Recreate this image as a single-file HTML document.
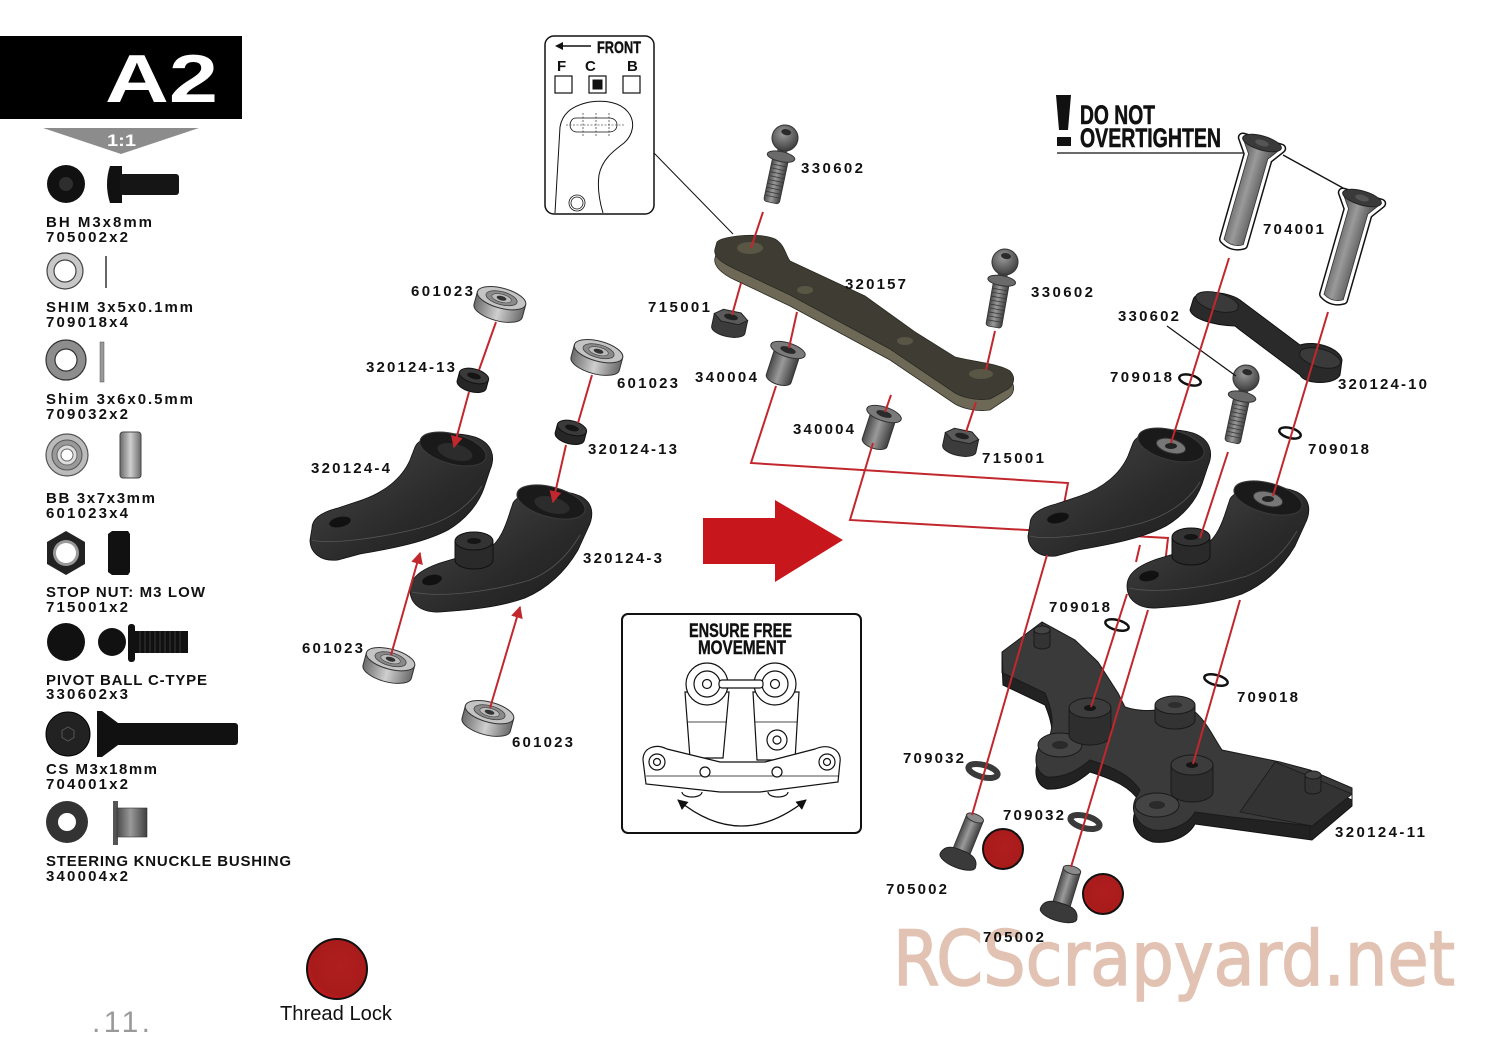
<!DOCTYPE html>
<html><head><meta charset="utf-8"><style>
html,body{margin:0;padding:0;background:#fff;}
svg{display:block;}
.lb{font-family:"Liberation Sans",sans-serif;font-weight:bold;font-size:15px;fill:#111;}
</style></head><body>
<svg width="1500" height="1057" viewBox="0 0 1500 1057" xmlns="http://www.w3.org/2000/svg">
<defs>
<linearGradient id="gScrew" x1="0" y1="0" x2="1" y2="0"><stop offset="0" stop-color="#4a4a4a"/><stop offset="0.45" stop-color="#9a9a9a"/><stop offset="1" stop-color="#3e3e3e"/></linearGradient>
<linearGradient id="gCyl" x1="0" y1="0" x2="1" y2="0"><stop offset="0" stop-color="#6a6a6a"/><stop offset="0.5" stop-color="#cfcfcf"/><stop offset="1" stop-color="#6a6a6a"/></linearGradient>
<linearGradient id="gDark" x1="0" y1="0" x2="1" y2="1"><stop offset="0" stop-color="#4a4a4a"/><stop offset="0.6" stop-color="#2a2a2a"/><stop offset="1" stop-color="#1c1c1c"/></linearGradient>
<radialGradient id="gBall" cx="0.4" cy="0.35" r="0.7"><stop offset="0" stop-color="#9a9a9a"/><stop offset="1" stop-color="#3a3a3a"/></radialGradient>
<radialGradient id="gRed" cx="0.55" cy="0.45" r="0.6"><stop offset="0" stop-color="#b01e1e"/><stop offset="0.8" stop-color="#a81b1b"/><stop offset="1" stop-color="#d2161c"/></radialGradient>
<marker id="ah" viewBox="0 0 10 10" refX="9" refY="5" markerWidth="6" markerHeight="6" orient="auto-start-reverse"><path d="M0,0 L10,5 L0,10 z" fill="#c1272d"/></marker>
<marker id="ahk" viewBox="0 0 10 10" refX="9" refY="5" markerWidth="8" markerHeight="8" orient="auto-start-reverse"><path d="M0,0 L10,5 L0,10 z" fill="#111"/></marker>

<g id="brg">
 <path d="M-25,-6 L-25,7 A25,10 0 0 0 25,7 L25,-6 Z" fill="url(#gCyl)" stroke="#333" stroke-width="1"/>
 <ellipse cx="0" cy="-6" rx="25" ry="10" fill="#c4c4c4" stroke="#333" stroke-width="1"/>
 <ellipse cx="0" cy="-6" rx="16" ry="6.5" fill="#8a8a8a" stroke="#444" stroke-width="0.8"/>
 <ellipse cx="0" cy="-6" rx="10" ry="4" fill="#bbb" stroke="#444" stroke-width="0.6"/>
 <ellipse cx="0" cy="-6" rx="5" ry="2.2" fill="#333"/>
</g>
<g id="sp">
 <path d="M-15,0 L-15,9 A15,7 0 0 0 15,9 L15,0 Z" fill="#262626" stroke="#111"/>
 <ellipse cx="0" cy="0" rx="15" ry="7" fill="#3a3a3a" stroke="#111"/>
 <ellipse cx="0" cy="0" rx="7" ry="3" fill="#151515"/>
</g>
<g id="nut">
 <path d="M-17,0 L-17,13 A17,7 0 0 0 17,13 L17,0 Z" fill="#3c3c3c" stroke="#222"/>
 <path d="M-17,0 L-9,-6 L9,-6 L17,0 L9,6 L-9,6 Z" fill="#5a5a5a" stroke="#222"/>
 <ellipse cx="0" cy="0" rx="7" ry="3" fill="#222"/>
</g>
<g id="bush">
 <path d="M-13,0 L-13,30 A13,6 0 0 0 13,30 L13,0 Z" fill="url(#gScrew)" stroke="#333"/>
 <ellipse cx="0" cy="0" rx="18" ry="7" fill="#7a7a7a" stroke="#333"/>
 <ellipse cx="0" cy="0" rx="8" ry="3.2" fill="#2a2a2a"/>
</g>
<g id="stud">
 <rect x="-8" y="20" width="16" height="46" rx="3" fill="url(#gScrew)" stroke="#333" stroke-width="0.8"/>
 <path d="M-8,28h16M-8,32h16M-8,36h16M-8,40h16M-8,44h16M-8,48h16M-8,52h16M-8,56h16M-8,60h16" stroke="#3a3a3a" stroke-width="0.8"/>
 <rect x="-5" y="8" width="10" height="12" fill="#555"/>
 <ellipse cx="0" cy="19" rx="14" ry="5" fill="#6a6a6a" stroke="#333"/>
 <circle cx="0" cy="0" r="13" fill="url(#gBall)" stroke="#333"/>
 <ellipse cx="0" cy="-6" rx="5" ry="3" fill="#2a2a2a"/>
</g>
<path id="csp" d="M-20,0 L-10,14 L-10,103 Q0,109 10,103 L10,14 L20,0 Z"/>
<g id="bh">
 <path d="M-9,0 L-9,42 L9,42 L9,0 Z" fill="url(#gScrew)" stroke="#333" stroke-width="0.8"/>
 <ellipse cx="0" cy="0" rx="9" ry="4" fill="#8a8a8a" stroke="#333"/>
 <path d="M-19,46 Q-18,34 0,35 Q18,34 19,46 A19,7 0 0 1 -19,46 Z" fill="#3a3a3a" stroke="#222"/>
</g>
<path id="k4" d="M312,528 C312,518 322,512 338,508 L362,500 C385,492 402,478 410,460 L415,447 C420,435 450,430 475,437 C492,443 496,456 490,470 L484,488 C478,505 465,520 448,530 C425,542 395,548 360,554 L338,560 C320,562 310,552 310,540 Z"/>
<path id="k3" d="M410,590 C410,578 420,570 440,563 L490,548 C500,540 505,528 510,512 L513,503 C520,490 560,487 580,496 C594,503 594,516 588,528 L578,550 C565,572 548,588 525,598 C500,607 470,610 440,612 C420,613 410,603 410,590 Z"/>
</defs>

<!-- Header -->
<rect x="0" y="36" width="242" height="83" fill="#000"/>
<text x="105" y="102" font-family="Liberation Sans" font-weight="bold" font-size="68" fill="#fff" textLength="113" lengthAdjust="spacingAndGlyphs">A2</text>
<polygon points="43,128 199,128 121,154" fill="#8c8c8c"/>
<text x="107" y="146" font-family="Liberation Sans" font-weight="bold" font-size="17" fill="#fff" textLength="29" lengthAdjust="spacingAndGlyphs">1:1</text>

<!-- Left parts column -->
<circle cx="66" cy="184" r="19" fill="#111"/><circle cx="66" cy="184" r="7" fill="#2e2e2e"/>
<path d="M110,166 Q104,184 110,203 L122,203 L122,166 Z" fill="#111"/><rect x="120" y="174" width="59" height="21" rx="3" fill="#151515"/>
<text class="lb" x="46" y="227" textLength="106" lengthAdjust="spacing">BH M3x8mm</text>
<text class="lb" x="46" y="242" textLength="82" lengthAdjust="spacing">705002x2</text>

<circle cx="65" cy="271" r="18" fill="#c8c8c8" stroke="#444" stroke-width="1.2"/><circle cx="65" cy="271" r="11" fill="#fff" stroke="#444" stroke-width="1.2"/>
<line x1="106" y1="256" x2="106" y2="288" stroke="#333" stroke-width="1.5"/>
<text class="lb" x="46" y="312" textLength="147" lengthAdjust="spacing">SHIM 3x5x0.1mm</text>
<text class="lb" x="46" y="327" textLength="82" lengthAdjust="spacing">709018x4</text>

<circle cx="66" cy="360" r="20" fill="#8d8d8d" stroke="#333" stroke-width="1.2"/><circle cx="66" cy="360" r="11" fill="#fff" stroke="#333" stroke-width="1.2"/>
<rect x="100" y="342" width="4" height="40" fill="#999" stroke="#555" stroke-width="0.5"/>
<text class="lb" x="46" y="404" textLength="147" lengthAdjust="spacing">Shim 3x6x0.5mm</text>
<text class="lb" x="46" y="419" textLength="82" lengthAdjust="spacing">709032x2</text>

<circle cx="67" cy="455" r="21" fill="#bbb" stroke="#555" stroke-width="1.2"/><circle cx="67" cy="455" r="15" fill="#999" stroke="#555"/><circle cx="67" cy="455" r="10" fill="#ddd" stroke="#666"/><circle cx="67" cy="455" r="6" fill="#fff" stroke="#666"/>
<rect x="120" y="432" width="21" height="46" rx="3" fill="url(#gCyl)" stroke="#444"/>
<text class="lb" x="46" y="503" textLength="109" lengthAdjust="spacing">BB 3x7x3mm</text>
<text class="lb" x="46" y="518" textLength="82" lengthAdjust="spacing">601023x4</text>

<polygon points="66,531 85,542 85,564 66,575 47,564 47,542" fill="#222"/><circle cx="66" cy="553" r="13" fill="#999"/><circle cx="66" cy="553" r="10" fill="#fff"/>
<path d="M108,534 L112,531 L128,531 L130,534 L130,572 L128,575 L112,575 L108,572 Z" fill="#111"/>
<text class="lb" x="46" y="597" textLength="159" lengthAdjust="spacing">STOP NUT: M3 LOW</text>
<text class="lb" x="46" y="612" textLength="82" lengthAdjust="spacing">715001x2</text>

<circle cx="66" cy="642" r="19" fill="#111"/>
<circle cx="112" cy="642" r="14" fill="#111"/><rect x="128" y="624" width="7" height="38" rx="3" fill="#111"/><rect x="134" y="631" width="54" height="22" fill="#111"/>
<path d="M140,631v22M145,631v22M150,631v22M155,631v22M160,631v22M165,631v22M170,631v22M175,631v22M180,631v22" stroke="#444" stroke-width="0.8"/>
<text class="lb" x="46" y="685" textLength="161" lengthAdjust="spacing">PIVOT BALL C-TYPE</text>
<text class="lb" x="46" y="699" textLength="82" lengthAdjust="spacing">330602x3</text>

<circle cx="68" cy="734" r="22" fill="#222" stroke="#000"/><polygon points="68,727 74,730.5 74,737.5 68,741 62,737.5 62,730.5" fill="none" stroke="#555"/>
<polygon points="97,711 102,711 118,723 118,745 102,757 97,757" fill="#111"/><rect x="112" y="723" width="126" height="22" rx="3" fill="#111"/>
<text class="lb" x="46" y="774" textLength="111" lengthAdjust="spacing">CS M3x18mm</text>
<text class="lb" x="46" y="789" textLength="82" lengthAdjust="spacing">704001x2</text>

<circle cx="67" cy="822" r="21" fill="#333"/><circle cx="67" cy="822" r="9" fill="#fff"/>
<rect x="113" y="801" width="5" height="44" fill="#555"/><rect x="117" y="808" width="30" height="29" fill="url(#gScrew)" stroke="#333" stroke-width="0.6"/>
<text class="lb" x="46" y="866" textLength="245" lengthAdjust="spacing">STEERING KNUCKLE BUSHING</text>
<text class="lb" x="46" y="881" textLength="82" lengthAdjust="spacing">340004x2</text>

<!-- Bottom left -->
<text x="92" y="1032" font-family="Liberation Sans" font-size="30" fill="#9a9a9a" textLength="58" lengthAdjust="spacing">.11.</text>
<circle cx="337" cy="969" r="30" fill="url(#gRed)" stroke="#111" stroke-width="2"/>
<text x="280" y="1020" font-family="Liberation Sans" font-size="20" fill="#111" textLength="112" lengthAdjust="spacingAndGlyphs">Thread Lock</text>

<!-- Watermark -->
<text x="893" y="985" font-family="DejaVu Sans" font-size="76" fill="#e2c2b2" stroke="#e2c2b2" stroke-width="1.5" textLength="562" lengthAdjust="spacingAndGlyphs">RCScrapyard.net</text>

<!-- FRONT box -->
<rect x="545" y="36" width="109" height="178" rx="9" fill="#fff" stroke="#111" stroke-width="1.5"/>
<line x1="560" y1="46" x2="591" y2="46" stroke="#111" stroke-width="1.5"/><path d="M555,46 L563,42 L563,50 Z" fill="#111"/>
<text x="597" y="53" font-family="Liberation Sans" font-weight="bold" font-size="17" fill="#111" stroke="#111" stroke-width="0.4" textLength="44" lengthAdjust="spacingAndGlyphs">FRONT</text>
<text x="557" y="71" font-family="Liberation Sans" font-weight="bold" font-size="15" fill="#111">F</text>
<text x="585" y="71" font-family="Liberation Sans" font-weight="bold" font-size="15" fill="#111">C</text>
<text x="627" y="71" font-family="Liberation Sans" font-weight="bold" font-size="15" fill="#111">B</text>
<rect x="555" y="76" width="17" height="17" fill="#fff" stroke="#111" stroke-width="1.2"/>
<rect x="589" y="76" width="17" height="17" fill="#fff" stroke="#111" stroke-width="1.2"/><rect x="592.5" y="79.5" width="10" height="10" fill="#111"/>
<rect x="623" y="76" width="17" height="17" fill="#fff" stroke="#111" stroke-width="1.2"/>
<path d="M555,213 L560,127 C562,115 570,106 590,102 C605,100 620,102 628,112 C636,122 633,135 624,143 C612,152 602,160 599,175 C597,190 600,203 603,213" fill="none" stroke="#111" stroke-width="1"/>
<path d="M576,118 C572,118 570,122 570,125 C570,129 573,132 577,132 L609,132 C614,132 617,129 617,125 C617,121 614,118 609,118 Z" fill="none" stroke="#111" stroke-width="0.8"/>
<path d="M566,125 H624 M583,113 V137 M596,113 V137 M609,113 V137" stroke="#111" stroke-width="0.6" stroke-dasharray="2,1.5"/>
<circle cx="577" cy="203" r="8" fill="none" stroke="#111" stroke-width="0.8"/><circle cx="577" cy="203" r="6" fill="none" stroke="#111" stroke-width="0.8"/>
<line x1="654" y1="153" x2="733" y2="234" stroke="#111" stroke-width="1"/>

<!-- Center plate 320157 -->
<path d="M717,251 C722,245 760,241 775,248 C785,254 785,263 790,270 L865,305 L915,341 L955,366 C975,371 1000,373 1010,380 C1016,386 1014,394 1008,398 L990,410 C975,412 962,408 955,404 L890,360 L790,306 L735,280 C722,274 713,266 715,258 Z" fill="#6d6956" stroke="#2a2a22" stroke-width="0.8"/>
<path d="M717,242 C722,236 760,232 775,239 C785,245 785,254 790,261 L865,296 L915,332 L955,357 C975,362 1000,364 1010,371 C1016,377 1014,385 1008,389 L990,399 C975,401 962,397 955,393 L890,349 L790,295 L735,269 C722,263 713,257 715,249 Z" fill="#3f3d33" stroke="#2a2a22" stroke-width="0.8"/>
<ellipse cx="750" cy="248" rx="13" ry="6" fill="#5a5646"/>
<ellipse cx="805" cy="290" rx="8" ry="4" fill="#5a5646"/>
<ellipse cx="905" cy="341" rx="8" ry="4" fill="#5a5646"/>
<ellipse cx="981" cy="374" rx="12" ry="5" fill="#5a5646"/>

<!-- center parts -->
<use href="#stud" transform="translate(785,138) rotate(12)"/>
<use href="#stud" transform="translate(1005,262) rotate(10)"/>
<use href="#nut" transform="translate(731,317) rotate(12)"/>
<use href="#nut" transform="translate(962,436) rotate(12)"/>
<use href="#bush" transform="translate(788,350) rotate(18)"/>
<use href="#bush" transform="translate(884,414) rotate(18)"/>

<!-- Left knuckles -->
<use href="#k4" fill="url(#gDark)" stroke="#111" stroke-width="0.8"/>
<path d="M312,540 C330,545 380,538 420,528 C450,520 470,505 482,486" fill="none" stroke="#555" stroke-width="0.8"/>
<ellipse cx="453" cy="449" rx="34" ry="15" transform="rotate(15 453 449)" fill="#1a1a1a" stroke="#3a3a3a"/>
<ellipse cx="455" cy="452" rx="18" ry="8" transform="rotate(15 455 452)" fill="#2c2c2c"/>
<ellipse cx="340" cy="522" rx="11" ry="5" transform="rotate(-12 340 522)" fill="#111"/>
<use href="#k3" fill="url(#gDark)" stroke="#111" stroke-width="0.8"/>
<path d="M412,592 C440,598 490,592 530,580 C555,570 570,552 580,535" fill="none" stroke="#555" stroke-width="0.8"/>
<ellipse cx="551" cy="502" rx="35" ry="15" transform="rotate(15 551 502)" fill="#1a1a1a" stroke="#3a3a3a"/>
<ellipse cx="552" cy="505" rx="18" ry="8" transform="rotate(15 552 505)" fill="#2c2c2c"/>
<path d="M455,541 L455,560 A19,9 0 0 0 493,560 L493,541 Z" fill="#2a2a2a" stroke="#111"/>
<ellipse cx="474" cy="541" rx="19" ry="9" fill="#333" stroke="#111"/><ellipse cx="474" cy="541" rx="7" ry="3" fill="#151515"/>
<ellipse cx="432" cy="580" rx="10" ry="5" transform="rotate(-12 432 580)" fill="#111"/>

<use href="#brg" transform="translate(500,304) rotate(15)"/>
<use href="#sp" transform="translate(474,376) rotate(15)"/>
<use href="#brg" transform="translate(597,357) rotate(15)"/>
<use href="#sp" transform="translate(572,428) rotate(15)"/>
<use href="#brg" transform="translate(389,665) rotate(15)"/>
<use href="#brg" transform="translate(488,718) rotate(15)"/>

<!-- Left red lines -->
<g stroke="#c1272d" stroke-width="2" fill="none">
<line x1="496" y1="322" x2="479" y2="370"/>
<line x1="469" y1="392" x2="454" y2="447" marker-end="url(#ah)"/>
<line x1="592" y1="375" x2="578" y2="423"/>
<line x1="566" y1="445" x2="553" y2="502" marker-end="url(#ah)"/>
<line x1="391" y1="655" x2="420" y2="553" marker-end="url(#ah)"/>
<line x1="490" y1="708" x2="520" y2="607" marker-end="url(#ah)"/>
</g>

<!-- Big red arrow -->
<path d="M703,518 L775,518 L775,500 L843,540 L775,582 L775,564 L703,564 Z" fill="#c8161d"/>

<!-- ENSURE FREE MOVEMENT box -->
<rect x="622" y="614" width="239" height="219" rx="6" fill="#fff" stroke="#111" stroke-width="2"/>
<text x="689" y="637" font-family="Liberation Sans" font-weight="bold" font-size="19" fill="#111" stroke="#111" stroke-width="0.4" textLength="103" lengthAdjust="spacingAndGlyphs">ENSURE FREE</text>
<text x="698" y="654" font-family="Liberation Sans" font-weight="bold" font-size="19" fill="#111" stroke="#111" stroke-width="0.4" textLength="88" lengthAdjust="spacingAndGlyphs">MOVEMENT</text>
<g fill="#fff" stroke="#111" stroke-width="1.2">
<path d="M685,692 L690,758 L723,758 L729,692 Z"/>
<path d="M753,692 L757,760 L795,760 L799,692 Z"/>
<path d="M687,722 L727,722 M755,722 L797,722" fill="none" stroke-width="0.7"/>
<circle cx="707" cy="684" r="21"/><circle cx="707" cy="684" r="13"/><circle cx="707" cy="684" r="4.5"/>
<circle cx="775" cy="684" r="21"/><circle cx="775" cy="684" r="13"/><circle cx="775" cy="684" r="4.5"/>
<rect x="719" y="680" width="44" height="8" rx="3"/>
<path d="M643,760 C643,748 655,743 667,749 L720,762 L765,762 L815,749 C829,743 842,750 840,762 L838,782 L760,792 L720,792 L646,784 Z"/>
<line x1="646" y1="776" x2="838" y2="776" stroke-width="0.7"/>
<circle cx="705" cy="772" r="5"/><circle cx="777" cy="772" r="5"/>
<circle cx="777" cy="740" r="10"/><circle cx="777" cy="740" r="4"/>
<circle cx="657" cy="762" r="8"/><circle cx="657" cy="762" r="3.5"/>
<circle cx="827" cy="762" r="8"/><circle cx="827" cy="762" r="3.5"/>
<path d="M682,792 A10,5 0 0 0 702,792"/><path d="M768,792 A10,5 0 0 0 788,792"/>
</g>
<path d="M678,800 Q741,852 806,800" fill="none" stroke="#111" stroke-width="1.3" marker-start="url(#ahk)" marker-end="url(#ahk)"/>

<!-- Center red lines -->
<g stroke="#c1272d" stroke-width="2" fill="none">
<line x1="763" y1="212" x2="751" y2="248"/>
<line x1="741" y1="283" x2="732" y2="315"/>
<line x1="797" y1="312" x2="789" y2="348"/>
<polyline points="776,386 751,463 1068,483 1061,520"/>
<line x1="891" y1="395" x2="885" y2="412"/>
<polyline points="873,443 850,520 1168,538 1164,573"/>
<line x1="995" y1="331" x2="986" y2="370"/>
<line x1="976" y1="402" x2="966" y2="432"/>
</g>

<!-- Right assembly: plate 320124-11 -->
<path d="M1002,664 L1042,634 L1075,652 L1098,674 L1118,705 L1125,719 C1140,724 1160,724 1175,717 L1190,720 C1205,730 1212,747 1222,762 L1280,774 L1310,782 L1352,800 L1352,806 L1312,840 L1232,829 L1195,824 C1188,837 1170,844 1153,842 C1138,838 1130,824 1135,812 L1140,802 C1130,787 1115,780 1090,772 C1078,782 1065,790 1047,789 C1035,784 1033,770 1040,757 L1050,747 C1055,732 1050,717 1045,705 L1003,685 Z" fill="#222" stroke="#111"/>
<path d="M1002,652 L1042,622 L1075,640 L1098,662 L1118,693 L1125,707 C1140,712 1160,712 1175,705 L1190,708 C1205,718 1212,735 1222,750 L1280,762 L1310,770 L1352,788 L1352,794 L1312,826 L1232,817 L1195,812 C1188,825 1170,832 1153,830 C1138,826 1130,812 1135,800 L1140,790 C1130,775 1115,768 1090,760 C1078,770 1065,778 1047,777 C1035,772 1033,758 1040,745 L1050,735 C1055,720 1050,705 1045,693 L1003,673 Z" fill="#3a3a3a" stroke="#1a1a1a"/>
<path d="M1042,634 L1042,622 M1002,652 L1002,673 M1310,770 L1310,838 M1352,788 L1352,806" stroke="#1a1a1a"/>
<path d="M1275,762 L1352,794 L1312,826 L1240,812 Z" fill="#333" stroke="#1a1a1a" stroke-width="0.8"/>
<ellipse cx="1060" cy="745" rx="22" ry="12" fill="#444" stroke="#1a1a1a"/><ellipse cx="1060" cy="745" rx="8" ry="4" fill="#2a2a2a"/>
<ellipse cx="1157" cy="805" rx="22" ry="12" fill="#444" stroke="#1a1a1a"/><ellipse cx="1157" cy="805" rx="8" ry="4" fill="#2a2a2a"/>
<path d="M1155,705 L1155,720 A20,9 0 0 0 1195,720 L1195,705 Z" fill="#333" stroke="#1a1a1a"/><ellipse cx="1175" cy="705" rx="20" ry="9" fill="#444" stroke="#1a1a1a"/><ellipse cx="1175" cy="705" rx="7" ry="3" fill="#2e2e2e"/>
<path d="M1069,708 L1069,735 A21,10 0 0 0 1111,735 L1111,708 Z" fill="#2e2e2e" stroke="#1a1a1a"/><ellipse cx="1090" cy="708" rx="21" ry="10" fill="#3c3c3c" stroke="#1a1a1a"/><ellipse cx="1090" cy="708" rx="6" ry="3" fill="#151515"/>
<path d="M1171,765 L1171,792 A21,10 0 0 0 1213,792 L1213,765 Z" fill="#2e2e2e" stroke="#1a1a1a"/><ellipse cx="1192" cy="765" rx="21" ry="10" fill="#3c3c3c" stroke="#1a1a1a"/><ellipse cx="1192" cy="765" rx="6" ry="3" fill="#151515"/>
<path d="M1034,630 L1034,645 A8,4 0 0 0 1050,645 L1050,630 Z" fill="#333" stroke="#1a1a1a"/><ellipse cx="1042" cy="630" rx="8" ry="4" fill="#444" stroke="#1a1a1a"/>
<path d="M1305,775 L1305,790 A8,4 0 0 0 1321,790 L1321,775 Z" fill="#333" stroke="#1a1a1a"/><ellipse cx="1313" cy="775" rx="8" ry="4" fill="#444" stroke="#1a1a1a"/>

<!-- Right knuckles -->
<g transform="translate(718,-4)">
<use href="#k4" fill="url(#gDark)" stroke="#111" stroke-width="0.8"/>
<path d="M312,540 C330,545 380,538 420,528 C450,520 470,505 482,486" fill="none" stroke="#555" stroke-width="0.8"/>
<ellipse cx="453" cy="449" rx="34" ry="15" transform="rotate(15 453 449)" fill="#1a1a1a" stroke="#3a3a3a"/>
<ellipse cx="453" cy="450" rx="15" ry="7" transform="rotate(15 453 450)" fill="#777" stroke="#333"/>
<ellipse cx="453" cy="450" rx="6" ry="3" fill="#222"/>
<ellipse cx="340" cy="522" rx="11" ry="5" transform="rotate(-12 340 522)" fill="#111"/>
</g>
<g transform="translate(717,-4)">
<use href="#k3" fill="url(#gDark)" stroke="#111" stroke-width="0.8"/>
<path d="M412,592 C440,598 490,592 530,580 C555,570 570,552 580,535" fill="none" stroke="#555" stroke-width="0.8"/>
<ellipse cx="551" cy="502" rx="35" ry="15" transform="rotate(15 551 502)" fill="#1a1a1a" stroke="#3a3a3a"/>
<ellipse cx="551" cy="503" rx="15" ry="7" transform="rotate(15 551 503)" fill="#777" stroke="#333"/>
<ellipse cx="551" cy="503" rx="6" ry="3" fill="#222"/>
<path d="M455,541 L455,560 A19,9 0 0 0 493,560 L493,541 Z" fill="#2a2a2a" stroke="#111"/>
<ellipse cx="474" cy="541" rx="19" ry="9" fill="#333" stroke="#111"/><ellipse cx="474" cy="541" rx="7" ry="3" fill="#151515"/>
<ellipse cx="432" cy="580" rx="10" ry="5" transform="rotate(-12 432 580)" fill="#111"/>
</g>

<!-- Link 320124-10 -->
<path d="M1193,300 C1195,290 1225,290 1240,300 L1300,345 C1315,340 1340,348 1342,360 L1340,375 C1335,385 1305,385 1300,375 L1240,330 L1235,326 C1210,325 1192,318 1190,310 Z" fill="#2a2a2a" stroke="#111"/>
<ellipse cx="1217" cy="302" rx="22" ry="9" transform="rotate(15 1217 302)" fill="#3a3a3a" stroke="#1a1a1a"/>
<ellipse cx="1320" cy="358" rx="21" ry="9" transform="rotate(15 1320 358)" fill="#3a3a3a" stroke="#1a1a1a"/>

<!-- DO NOT OVERTIGHTEN -->
<path d="M1056,95 L1071,95 L1068,130 L1059,130 Z" fill="#111"/><rect x="1057" y="137" width="14" height="9" fill="#111"/>
<text x="1080" y="124" font-family="Liberation Sans" font-weight="bold" font-size="27" fill="#111" stroke="#111" stroke-width="0.6" textLength="75" lengthAdjust="spacingAndGlyphs">DO NOT</text>
<text x="1080" y="147" font-family="Liberation Sans" font-weight="bold" font-size="27" fill="#111" stroke="#111" stroke-width="0.6" textLength="141" lengthAdjust="spacingAndGlyphs">OVERTIGHTEN</text>
<line x1="1057" y1="153" x2="1243" y2="153" stroke="#111" stroke-width="1.3"/>
<line x1="1283" y1="155" x2="1343" y2="188" stroke="#111" stroke-width="1.3"/>

<!-- 704001 screws with halos -->
<g transform="translate(1262,143) rotate(16)">
<use href="#csp" fill="#fff" stroke="#111" stroke-width="10" stroke-linejoin="round"/>
<use href="#csp" fill="#fff" stroke="#fff" stroke-width="7" stroke-linejoin="round"/>
<use href="#csp" fill="url(#gScrew)" stroke="#333" stroke-width="0.8"/>
<ellipse cx="0" cy="0" rx="20" ry="7" fill="#3a3a3a" stroke="#222"/><ellipse cx="0" cy="0" rx="7" ry="3" fill="#555"/>
</g>
<g transform="translate(1362,198) rotate(16)">
<use href="#csp" fill="#fff" stroke="#111" stroke-width="10" stroke-linejoin="round"/>
<use href="#csp" fill="#fff" stroke="#fff" stroke-width="7" stroke-linejoin="round"/>
<use href="#csp" fill="url(#gScrew)" stroke="#333" stroke-width="0.8"/>
<ellipse cx="0" cy="0" rx="20" ry="7" fill="#3a3a3a" stroke="#222"/><ellipse cx="0" cy="0" rx="7" ry="3" fill="#555"/>
</g>

<use href="#stud" transform="translate(1246,378) rotate(12)"/>
<line x1="1167" y1="326" x2="1236" y2="376" stroke="#111" stroke-width="1.2"/>

<!-- washers -->
<g fill="none">
<ellipse cx="1190" cy="380" rx="11" ry="5" transform="rotate(15 1190 380)" stroke="#111" stroke-width="2.5"/>
<ellipse cx="1290" cy="433" rx="11" ry="5" transform="rotate(15 1290 433)" stroke="#111" stroke-width="2.5"/>
<ellipse cx="1117" cy="625" rx="12" ry="5" transform="rotate(15 1117 625)" stroke="#111" stroke-width="2.5"/>
<ellipse cx="1216" cy="680" rx="12" ry="5" transform="rotate(15 1216 680)" stroke="#111" stroke-width="2.5"/>
<ellipse cx="983" cy="771" rx="15" ry="6" transform="rotate(15 983 771)" stroke="#3a3a3a" stroke-width="6"/>
<ellipse cx="1085" cy="822" rx="15" ry="6" transform="rotate(15 1085 822)" stroke="#3a3a3a" stroke-width="6"/>
</g>

<!-- 705002 screws -->
<use href="#bh" transform="translate(975,818) rotate(22)"/>
<use href="#bh" transform="translate(1072,870) rotate(17)"/>
<circle cx="1003" cy="849" r="20" fill="url(#gRed)" stroke="#111" stroke-width="2"/>
<circle cx="1103" cy="894" r="20" fill="url(#gRed)" stroke="#111" stroke-width="2"/>

<!-- Right red lines -->
<g stroke="#c1272d" stroke-width="2" fill="none">
<line x1="1229" y1="258" x2="1171" y2="443"/>
<line x1="1328" y1="312" x2="1273" y2="496"/>
<line x1="1228" y1="452" x2="1200" y2="538"/>
<line x1="1047" y1="555" x2="972" y2="815"/>
<line x1="1240" y1="600" x2="1193" y2="764"/>
<line x1="1127" y1="594" x2="1091" y2="707"/>
<line x1="1148" y1="610" x2="1071" y2="867"/>
<line x1="1140" y1="545" x2="1136" y2="562"/>
</g>

<!-- Diagram labels -->
<g>
<text class="lb" x="411" y="296" textLength="62" lengthAdjust="spacing">601023</text>
<text class="lb" x="366" y="372" textLength="89" lengthAdjust="spacing">320124-13</text>
<text class="lb" x="311" y="473" textLength="79" lengthAdjust="spacing">320124-4</text>
<text class="lb" x="617" y="388" textLength="61" lengthAdjust="spacing">601023</text>
<text class="lb" x="588" y="454" textLength="89" lengthAdjust="spacing">320124-13</text>
<text class="lb" x="583" y="563" textLength="79" lengthAdjust="spacing">320124-3</text>
<text class="lb" x="302" y="653" textLength="61" lengthAdjust="spacing">601023</text>
<text class="lb" x="512" y="747" textLength="61" lengthAdjust="spacing">601023</text>
<text class="lb" x="801" y="173" textLength="62" lengthAdjust="spacing">330602</text>
<text class="lb" x="845" y="289" textLength="61" lengthAdjust="spacing">320157</text>
<text class="lb" x="648" y="312" textLength="62" lengthAdjust="spacing">715001</text>
<text class="lb" x="1031" y="297" textLength="62" lengthAdjust="spacing">330602</text>
<text class="lb" x="695" y="382" textLength="62" lengthAdjust="spacing">340004</text>
<text class="lb" x="793" y="434" textLength="61" lengthAdjust="spacing">340004</text>
<text class="lb" x="982" y="463" textLength="62" lengthAdjust="spacing">715001</text>
<text class="lb" x="1263" y="234" textLength="61" lengthAdjust="spacing">704001</text>
<text class="lb" x="1118" y="321" textLength="61" lengthAdjust="spacing">330602</text>
<text class="lb" x="1110" y="382" textLength="62" lengthAdjust="spacing">709018</text>
<text class="lb" x="1338" y="389" textLength="89" lengthAdjust="spacing">320124-10</text>
<text class="lb" x="1308" y="454" textLength="61" lengthAdjust="spacing">709018</text>
<text class="lb" x="1049" y="612" textLength="61" lengthAdjust="spacing">709018</text>
<text class="lb" x="1237" y="702" textLength="61" lengthAdjust="spacing">709018</text>
<text class="lb" x="903" y="763" textLength="61" lengthAdjust="spacing">709032</text>
<text class="lb" x="1003" y="820" textLength="61" lengthAdjust="spacing">709032</text>
<text class="lb" x="1335" y="837" textLength="90" lengthAdjust="spacing">320124-11</text>
<text class="lb" x="886" y="894" textLength="61" lengthAdjust="spacing">705002</text>
<text class="lb" x="983" y="942" textLength="61" lengthAdjust="spacing">705002</text>
</g>
</svg>
</body></html>
